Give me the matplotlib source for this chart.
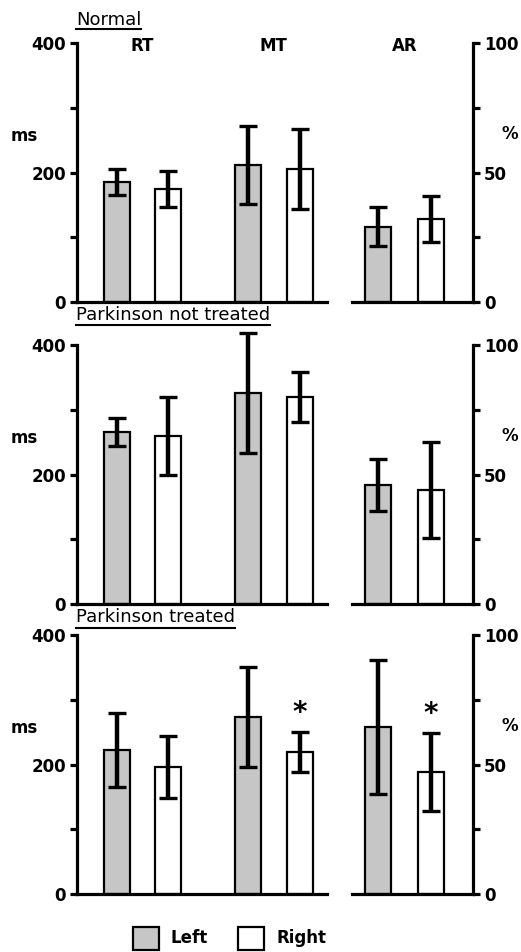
import matplotlib
matplotlib.use('Agg')
import matplotlib.pyplot as plt
from matplotlib.patches import Rectangle
from matplotlib.lines import Line2D
from matplotlib.transforms import blended_transform_factory

# ---------------- data ----------------
panel_titles = ["Normal", "Parkinson not treated", "Parkinson treated"]
measures = ["RT", "MT"]
ar_label = "AR"
ms_left = [[185, 212], [266, 326], [222, 273]]
ms_left_err = [[20, 60], [22, 93], [57, 77]]
ms_right = [[175, 205], [260, 320], [196, 219]]
ms_right_err = [[28, 62], [60, 39], [48, 31]]
ar_left = [29, 46, 64.5]
ar_left_err = [7.5, 10, 26]
ar_right = [32, 44, 47]
ar_right_err = [9, 18.5, 15]
sig_ms_right = [[False, False], [False, False], [False, True]]
sig_ar_right = [False, False, True]
ms_major = [0, 200, 400]
ms_minor = [100, 300]
pct_major = [0, 50, 100]
pct_minor = [25, 75]
legend_labels = ["Left", "Right"]

# ---------------- layout ----------------
W, H = 521, 952
fig = plt.figure(figsize=(W / 100, H / 100), dpi=100)
plt.rcParams['font.family'] = ['DejaVu Sans']


def fx(px):
    return px / W


def fy(py):
    return 1 - py / H


GRAY = '#c6c6c6'
panel_tops = [43, 345, 635]
PH = 259
main_l, main_w = 77, 250
ar_l, ar_w = 352, 121
title_y = [20, 315, 617]
uline_y = [29, 325, 628]

left_pos = [0.8, 3.42]
right_pos = [1.82, 4.45]
ar_pos = [0.52, 1.58]
BW = 0.52
SPW = 2.3
TICKFS = 12
LABFS = 12
err_kw = dict(ecolor='black', elinewidth=3.2, capsize=6.5, capthick=2.4)


def unclip(container):
    eb = container.errorbar
    if eb is None:
        return
    for part in eb.lines:
        if part is None:
            continue
        items = part if isinstance(part, (list, tuple)) else [part]
        for it in items:
            it.set_clip_on(False)


def style_ticks(a):
    a.tick_params(axis='y', which='both', direction='out', length=5,
                  width=SPW, labelsize=TICKFS, pad=3)
    for lab in a.get_yticklabels():
        lab.set_fontweight('bold')


for i in range(3):
    top = panel_tops[i]
    ax = fig.add_axes([fx(main_l), fy(top + PH), main_w / W, PH / H])
    c1 = ax.bar(left_pos, ms_left[i], BW, yerr=ms_left_err[i], color=GRAY,
                edgecolor='black', linewidth=1.6, error_kw=err_kw, zorder=2)
    c2 = ax.bar(right_pos, ms_right[i], BW, yerr=ms_right_err[i], color='white',
                edgecolor='black', linewidth=1.6, error_kw=err_kw, zorder=2)
    unclip(c1)
    unclip(c2)
    ax.set_xlim(0, 5)
    ax.set_ylim(0, 400)
    for s in ['top', 'right']:
        ax.spines[s].set_visible(False)
    for s in ['left', 'bottom']:
        ax.spines[s].set_linewidth(SPW)
    ax.set_xticks([])
    ax.set_yticks(ms_major)
    ax.set_yticks(ms_minor, minor=True)
    style_ticks(ax)
    ax.patch.set_alpha(0)
    for j in range(2):
        if sig_ms_right[i][j]:
            ax.annotate('*', (right_pos[j], ms_right[i][j] + ms_right_err[i][j]),
                        xytext=(0, 4), textcoords='offset points', ha='center',
                        va='bottom', fontsize=20, fontweight='bold')

    ax2 = fig.add_axes([fx(ar_l), fy(top + PH), ar_w / W, PH / H])
    c3 = ax2.bar([ar_pos[0]], [ar_left[i]], BW, yerr=[ar_left_err[i]], color=GRAY,
                 edgecolor='black', linewidth=1.6, error_kw=err_kw, zorder=2)
    c4 = ax2.bar([ar_pos[1]], [ar_right[i]], BW, yerr=[ar_right_err[i]], color='white',
                 edgecolor='black', linewidth=1.6, error_kw=err_kw, zorder=2)
    unclip(c3)
    unclip(c4)
    ax2.set_xlim(0, ar_w / 50)
    ax2.set_ylim(0, 100)
    for s in ['top', 'left']:
        ax2.spines[s].set_visible(False)
    for s in ['right', 'bottom']:
        ax2.spines[s].set_linewidth(SPW)
    ax2.yaxis.tick_right()
    ax2.set_xticks([])
    ax2.set_yticks(pct_major)
    ax2.set_yticks(pct_minor, minor=True)
    style_ticks(ax2)
    ax2.patch.set_alpha(0)
    if sig_ar_right[i]:
        ax2.annotate('*', (ar_pos[1], ar_right[i] + ar_right_err[i]),
                     xytext=(0, 4), textcoords='offset points', ha='center',
                     va='bottom', fontsize=20, fontweight='bold')

    if i == 0:
        tr = blended_transform_factory(ax.transData, ax.transAxes)
        for k, m in enumerate(measures):
            ax.text((left_pos[k] + right_pos[k]) / 2, 1 - 3 / PH, m,
                    transform=tr, ha='center', va='center', fontsize=LABFS,
                    fontweight='bold')
        tr2 = blended_transform_factory(ax2.transData, ax2.transAxes)
        ax2.text(sum(ar_pos) / 2, 1 - 3 / PH, ar_label, transform=tr2,
                 ha='center', va='center', fontsize=LABFS, fontweight='bold')

    fig.text(fx(24), fy(top + 93), 'ms', ha='center', va='center',
             fontsize=LABFS, fontweight='bold')
    fig.text(fx(510), fy(top + 91), '%', ha='center', va='center',
             fontsize=LABFS, fontweight='bold')

    t = fig.text(fx(76), fy(title_y[i]), panel_titles[i], ha='left',
                 va='center', fontsize=13)
    fig.canvas.draw()
    bb = t.get_window_extent()
    fig.add_artist(Line2D([bb.x0 / W, bb.x1 / W], [fy(uline_y[i])] * 2,
                          transform=fig.transFigure, color='black', lw=1.5))

# legend
fig.add_artist(Rectangle((fx(133), fy(950)), 26 / W, 23 / H, transform=fig.transFigure,
                         facecolor=GRAY, edgecolor='black', lw=1.6))
fig.text(fx(170), fy(938), legend_labels[0], ha='left', va='center',
         fontsize=LABFS, fontweight='bold')
fig.add_artist(Rectangle((fx(238), fy(950)), 26 / W, 23 / H, transform=fig.transFigure,
                         facecolor='white', edgecolor='black', lw=1.6))
fig.text(fx(277), fy(938), legend_labels[1], ha='left', va='center',
         fontsize=LABFS, fontweight='bold')

fig.savefig('out.png', dpi=100)
